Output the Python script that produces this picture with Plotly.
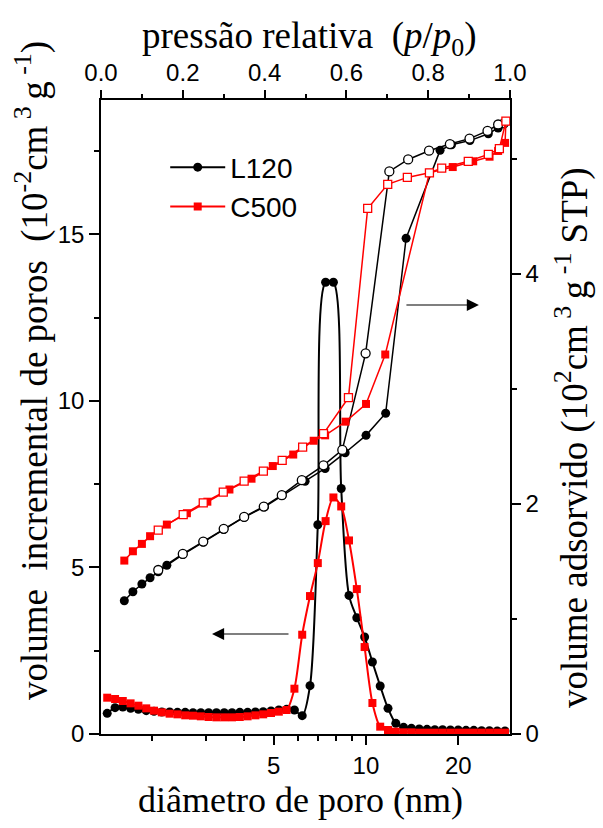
import plotly.graph_objects as go

# ---------------- data ----------------
# pore size distribution (bottom log axis, left axis)
diam_nm = [1.433, 1.520, 1.611, 1.708, 1.811, 1.921, 2.036, 2.159, 2.290, 2.428,
           2.574, 2.729, 2.894, 3.069, 3.254, 3.450, 3.658, 3.878, 4.112, 4.360,
           4.623, 4.902, 5.198, 5.511, 5.844, 6.196, 6.570, 6.966, 7.386, 7.832,
           8.304, 8.805, 9.336, 9.899, 10.496, 11.129, 11.800, 12.512, 13.266, 14.066,
           14.915, 15.814, 16.768, 17.779, 18.851, 19.988, 21.194, 22.472, 23.827, 25.264,
           26.787, 28.403]
psd_L120 = [0.62, 0.79, 0.81, 0.77, 0.74, 0.70, 0.68, 0.66, 0.66, 0.65,
            0.65, 0.64, 0.64, 0.64, 0.64, 0.64, 0.64, 0.65, 0.65, 0.66,
            0.67, 0.69, 0.72, 0.74, 0.72, 0.55, 1.45, 6.28, 13.56, 13.56,
            7.37, 4.16, 3.49, 2.91, 2.16, 1.44, 0.77, 0.32, 0.20, 0.17,
            0.15, 0.14, 0.13, 0.13, 0.12, 0.12, 0.11, 0.11, 0.10, 0.10,
            0.09, 0.09]
psd_C500 = [1.09, 1.05, 0.99, 0.92, 0.85, 0.77, 0.70, 0.65, 0.61, 0.59,
            0.56, 0.55, 0.53, 0.51, 0.50, 0.50, 0.50, 0.51, 0.53, 0.56,
            0.59, 0.63, 0.67, 0.72, 1.36, 2.98, 4.14, 5.13, 6.39, 7.10,
            6.83, 5.81, 4.35, 2.61, 0.93, 0.22, 0.12, 0.07, 0.05, 0.05,
            0.04, 0.04, 0.04, 0.04, 0.04, 0.04, 0.04, 0.04, 0.04, 0.04,
            0.04, 0.04]

# N2 isotherms (top axis p/p0, right axis)
p_ads_L120 = [0.057, 0.078, 0.100, 0.120, 0.140, 0.161, 0.200, 0.250, 0.300, 0.350,
              0.400, 0.443, 0.499, 0.548, 0.597, 0.648, 0.696, 0.746, 0.829, 0.857,
              0.902, 0.947, 0.971, 0.985]
v_ads_L120 = [1.159, 1.237, 1.304, 1.359, 1.410, 1.467, 1.560, 1.670, 1.780, 1.885,
              1.975, 2.074, 2.198, 2.309, 2.446, 2.597, 2.789, 4.311, 5.075, 5.124,
              5.160, 5.220, 5.270, 5.310]
p_des_L120 = [0.985, 0.971, 0.945, 0.901, 0.853, 0.802, 0.751, 0.705, 0.647, 0.590,
              0.544, 0.491, 0.442, 0.398, 0.350, 0.300, 0.250, 0.200, 0.140]
v_des_L120 = [5.310, 5.300, 5.244, 5.177, 5.130, 5.072, 4.996, 4.892, 3.310, 2.470,
              2.336, 2.207, 2.077, 1.978, 1.888, 1.784, 1.673, 1.566, 1.426]

p_ads_C500 = [0.057, 0.078, 0.100, 0.120, 0.161, 0.210, 0.260, 0.314, 0.368, 0.420,
              0.470, 0.520, 0.548, 0.598, 0.648, 0.695, 0.803, 0.860, 0.910, 0.950,
              0.971, 0.988, 0.990]
v_ads_C500 = [1.508, 1.589, 1.653, 1.720, 1.821, 1.920, 2.020, 2.126, 2.220, 2.330,
              2.430, 2.550, 2.597, 2.716, 2.870, 3.300, 4.880, 4.930, 4.980, 5.020,
              5.070, 5.140, 5.330]
p_des_C500 = [0.990, 0.974, 0.947, 0.898, 0.833, 0.803, 0.749, 0.701, 0.652, 0.605,
              0.544, 0.493, 0.443, 0.397, 0.350, 0.299, 0.250, 0.201, 0.140]
v_des_C500 = [5.330, 5.090, 5.040, 4.980, 4.920, 4.880, 4.840, 4.780, 4.570, 2.925,
              2.612, 2.495, 2.379, 2.286, 2.199, 2.103, 2.010, 1.908, 1.772]

# axis tick values
psd_ticks = [5, 10, 20]
psd_minor = [2, 3, 4, 6, 7, 8, 9]

BLACK = "#000000"
RED = "#ff0000"
SANS = "Liberation Sans"
SERIF = "Liberation Serif"

fig = go.Figure()

# isotherms on secondary axes
fig.add_trace(go.Scatter(x=p_ads_L120, y=v_ads_L120, xaxis="x2", yaxis="y2", mode="lines+markers",
                         line=dict(color=BLACK, width=1.5),
                         marker=dict(symbol="circle", size=9, color=BLACK), showlegend=False))
fig.add_trace(go.Scatter(x=p_des_L120, y=v_des_L120, xaxis="x2", yaxis="y2", mode="lines+markers",
                         line=dict(color=BLACK, width=1.5),
                         marker=dict(symbol="circle", size=9, color="white",
                                     line=dict(color=BLACK, width=1.3)), showlegend=False))
fig.add_trace(go.Scatter(x=p_ads_C500, y=v_ads_C500, xaxis="x2", yaxis="y2", mode="lines+markers",
                         line=dict(color=RED, width=1.5),
                         marker=dict(symbol="square", size=8, color=RED), showlegend=False))
fig.add_trace(go.Scatter(x=p_des_C500, y=v_des_C500, xaxis="x2", yaxis="y2", mode="lines+markers",
                         line=dict(color=RED, width=1.5),
                         marker=dict(symbol="square", size=8, color="white",
                                     line=dict(color=RED, width=1.3)), showlegend=False))

# pore size distributions
fig.add_trace(go.Scatter(x=diam_nm, y=psd_L120, mode="lines+markers", name="L120",
                         line=dict(color=BLACK, width=2, shape="spline", smoothing=0.85),
                         marker=dict(symbol="circle", size=9, color=BLACK)))
fig.add_trace(go.Scatter(x=diam_nm, y=psd_C500, mode="lines+markers", name="C500",
                         line=dict(color=RED, width=2, shape="spline", smoothing=0.8),
                         marker=dict(symbol="square", size=8, color=RED)))

axis_common = dict(showline=True, linecolor=BLACK, linewidth=1.5, ticks="outside",
                   tickcolor=BLACK, tickwidth=1.5, showgrid=False, zeroline=False,
                   tickfont=dict(family=SANS, size=24, color=BLACK))

fig.update_layout(
    width=603, height=828,
    margin=dict(l=101, r=93, t=100, b=94),
    paper_bgcolor="white", plot_bgcolor="white",
    xaxis=dict(type="log", range=[0.136, 1.4697], tickmode="array",
               tickvals=psd_ticks, ticktext=[str(v) for v in psd_ticks], ticklen=9,
               minor=dict(tickmode="array", tickvals=psd_minor, ticklen=5, ticks="outside",
                          tickcolor=BLACK, tickwidth=1.5),
               **axis_common),
    yaxis=dict(range=[0, 19.03], tickmode="array", tickvals=[0, 5, 10, 15], ticklen=10,
               minor=dict(dtick=2.5, tick0=0, ticklen=5, ticks="outside",
                          tickcolor=BLACK, tickwidth=1.5),
               **axis_common),
    xaxis2=dict(overlaying="x", side="top", range=[0, 1], dtick=0.2, tick0=0,
                tickformat=".1f", ticklen=8,
                minor=dict(dtick=0.1, tick0=0, ticklen=4, ticks="outside",
                           tickcolor=BLACK, tickwidth=1.5),
                **axis_common),
    yaxis2=dict(overlaying="y", side="right", range=[0, 5.513], dtick=2, tick0=0, ticklen=9,
                minor=dict(dtick=1, tick0=0, ticklen=5, ticks="outside",
                           tickcolor=BLACK, tickwidth=1.5),
                **axis_common),
    legend=dict(x=0.157, y=0.933, xanchor="left", yanchor="top",
                font=dict(family=SANS, size=28, color=BLACK),
                bgcolor="rgba(0,0,0,0)", itemwidth=55, tracegroupgap=0),
    showlegend=True,
)

title_font = dict(family=SERIF, size=37, color=BLACK)
fig.add_annotation(text="diâmetro de poro (nm)", xref="paper", yref="paper",
                   x=0.4866, y=-0.104, xanchor="center", yanchor="middle",
                   showarrow=False, font=dict(family=SERIF, size=36, color=BLACK))
fig.add_annotation(text="pressão relativa\u00a0 (<i>p</i>/<i>p</i><sub>0</sub>)",
                   xref="paper", yref="paper", x=0.511, y=1.097,
                   xanchor="center", yanchor="middle", showarrow=False, font=title_font)
fig.add_annotation(text="volume\u00a0 incremental de poros\u00a0 (10<sup>-2</sup>cm<sup> 3 </sup>g<sup> -1</sup>)",
                   xref="paper", yref="paper", x=-0.1687, y=0.5726, textangle=-90,
                   xanchor="center", yanchor="middle", showarrow=False, font=title_font)
fig.add_annotation(text="volume adsorvido (10<sup>2</sup>cm<sup> 3 </sup>g<sup> -1</sup> STP)",
                   xref="paper", yref="paper", x=1.1516, y=0.4669, textangle=-90,
                   xanchor="center", yanchor="middle", showarrow=False, font=title_font)

# direction arrows
fig.add_annotation(xref="paper", yref="paper", x=0.2714, y=0.1577, ax=78, ay=0,
                   text="", showarrow=True, arrowhead=2, arrowsize=2.2, arrowwidth=1.1,
                   arrowcolor=BLACK)
fig.add_annotation(xref="paper", yref="paper", x=0.924, y=0.6767, ax=-74, ay=0,
                   text="", showarrow=True, arrowhead=2, arrowsize=2.2, arrowwidth=1.1,
                   arrowcolor=BLACK)

fig.write_html("out.html")
